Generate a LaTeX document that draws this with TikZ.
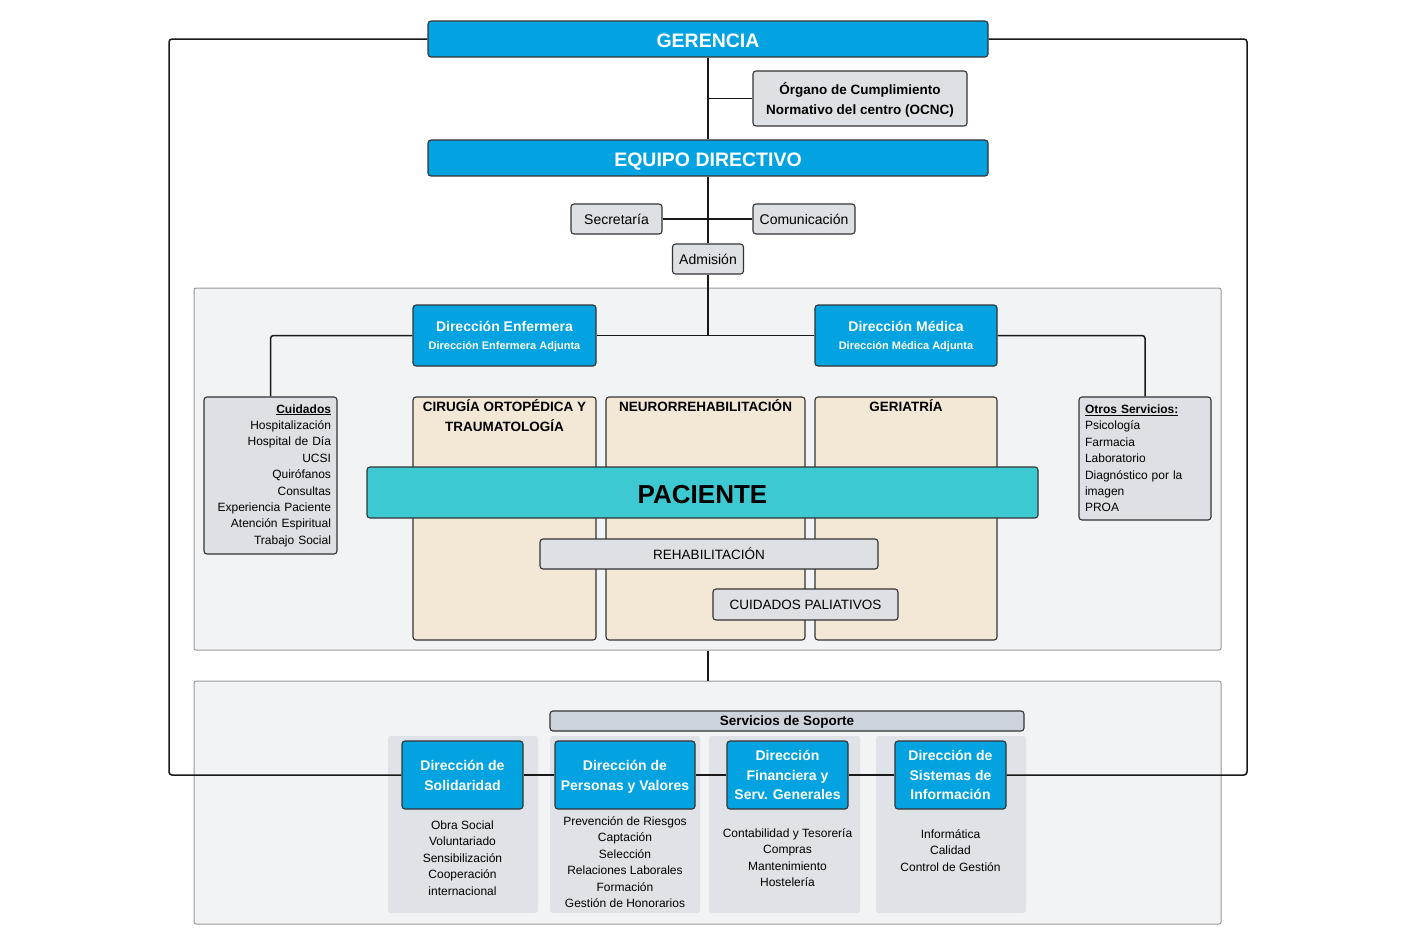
\documentclass[tikz,border=0pt]{standalone}
\usepackage{fontspec}
\setmainfont{Liberation Sans}
\usetikzlibrary{positioning}

\definecolor{dirazul}{RGB}{2,163,224}
\definecolor{grisclaro}{RGB}{221,224,229}
\definecolor{panelgris}{RGB}{242,243,245}
\definecolor{arena}{RGB}{243,231,214}
\definecolor{turquesa}{RGB}{60,201,209}
\definecolor{barragris}{RGB}{205,211,218}
\definecolor{colfondo}{RGB}{223,226,231}
\definecolor{borde}{RGB}{51,51,51}

\tikzset{
    caja/.style={draw=borde, line width=1.1pt, rounded corners=3pt, inner sep=0pt, align=center},
    dirbox/.style={caja, text depth=0pt, fill=dirazul, text=white, font=\bfseries\fontsize{14}{20}\selectfont},
    grisbox/.style={caja, text depth=0pt, fill=grisclaro, font=\fontsize{14}{19}\selectfont},
    listabox/.style={caja, fill=grisclaro, font=\fontsize{12}{16.4}\selectfont},
    areabox/.style={caja, fill=arena},
    titulo/.style={font=\bfseries\fontsize{13.5}{20}\selectfont, align=center, inner sep=0pt},
    panel/.style={draw=gray!80, line width=1pt, rounded corners=2pt, fill=panelgris},
    fondo/.style={fill=colfondo, rounded corners=3pt},
    lista/.style={font=\fontsize{12}{16.4}\selectfont, align=center, inner sep=0pt},
    linea/.style={line width=1.5pt, draw=black!90}
}

\begin{document}
\begin{tikzpicture}[x=1pt, y=-1pt]
    \useasboundingbox (0,0) rectangle (1417,945);

    % 1. Paneles de fondo
    \node[panel, minimum width=1027, minimum height=362] (medio) at (707.5,469) {};
    \node[panel, minimum width=1027, minimum height=243] (soporte) at (707.5,802.5) {};
    \foreach \cx/\cw in {463/150, 625/150, 784.5/151, 951/150} {
        \fill[fondo] (\cx-\cw/2,736) rectangle (\cx+\cw/2,913);
    }

    % 2. Gerencia y equipo directivo
    \node[dirbox, minimum width=560, minimum height=36, text height=16pt, font=\bfseries\fontsize{19.5}{22}\selectfont] (ger) at (708,39) {GERENCIA};
    \node[grisbox, minimum width=214, minimum height=55, font=\bfseries\fontsize{13.5}{19.5}\selectfont] (ocnc) at (860,98.5) {Órgano de Cumplimiento\\Normativo del centro (OCNC)};
    \node[dirbox, minimum width=560, minimum height=36, text height=16pt, font=\bfseries\fontsize{19.5}{22}\selectfont] (equipo) at (708,158) {EQUIPO DIRECTIVO};
    \node[grisbox, minimum width=91, minimum height=30] (sec) at (616.5,219) {Secretaría};
    \node[grisbox, minimum width=102, minimum height=30] (com) at (804,219) {Comunicación};
    \node[grisbox, minimum width=71, minimum height=30] (adm) at (708,259) {Admisión};

    % 3. Direcciones asistenciales
    \node[dirbox, minimum width=183, minimum height=61, font=\bfseries\fontsize{14}{18}\selectfont] (enf) at (504.5,335.5)
        {Dirección Enfermera\\{\fontsize{11}{18}\selectfont Dirección Enfermera Adjunta}};
    \node[dirbox, minimum width=182, minimum height=61, font=\bfseries\fontsize{14}{18}\selectfont] (med) at (906,335.5)
        {Dirección Médica\\{\fontsize{11}{18}\selectfont Dirección Médica Adjunta}};
    \node[listabox, minimum width=133, minimum height=157, text width=121, align=right] (cuid) at (270.5,475.5)
        {\underline{\textbf{Cuidados}}\\Hospitalización\\Hospital de Día\\UCSI\\Quirófanos\\Consultas\\Experiencia Paciente\\Atención Espiritual\\Trabajo Social};
    \node[listabox, minimum width=132, minimum height=123, text width=120, align=left] (otros) at (1145,458.5)
        {\underline{\textbf{Otros Servicios:}}\\Psicología\\Farmacia\\Laboratorio\\Diagnóstico por la\\imagen\\PROA};

    % 4. Areas y paciente
    \node[areabox, minimum width=183, minimum height=243] (cir) at (504.5,518.5) {};
    \node[areabox, minimum width=199, minimum height=243] (neu) at (705.5,518.5) {};
    \node[areabox, minimum width=182, minimum height=243] (geri) at (906,518.5) {};
    \node[titulo, anchor=north] (cirtit) at ([yshift=-3pt]cir.north) {CIRUGÍA ORTOPÉDICA Y\\TRAUMATOLOGÍA};
    \node[titulo, anchor=north] (neutit) at ([yshift=-3pt]neu.north) {NEURORREHABILITACIÓN};
    \node[titulo, anchor=north] (geritit) at ([yshift=-3pt]geri.north) {GERIATRÍA};
    \node[caja, fill=turquesa, minimum width=671, minimum height=51, text height=21.7pt, text depth=0pt, font=\bfseries\fontsize{26}{30}\selectfont] (pac) at (702.5,492.5) {PACIENTE};
    \node[grisbox, minimum width=338, minimum height=30, font=\fontsize{13.5}{16}\selectfont] (reh) at (709,554) {REHABILITACIÓN};
    \node[grisbox, minimum width=185, minimum height=31, font=\fontsize{13.5}{16}\selectfont] (pal) at (805.5,604.5) {CUIDADOS PALIATIVOS};

    % 5. Servicios de soporte
    \node[caja, fill=barragris, minimum width=474, minimum height=20, text depth=0pt, font=\bfseries\fontsize{13.5}{16}\selectfont] (sop) at (787,721) {Servicios de Soporte};
    \node[dirbox, minimum width=121, minimum height=68] (sol) at (462.5,775) {Dirección de\\Solidaridad};
    \node[dirbox, minimum width=140, minimum height=68] (per) at (625,775) {Dirección de\\Personas y Valores};
    \node[dirbox, minimum width=121, minimum height=68, font=\bfseries\fontsize{14}{19.5}\selectfont] (fin) at (787.5,775) {Dirección\\Financiera y\\Serv. Generales};
    \node[dirbox, minimum width=111, minimum height=68, font=\bfseries\fontsize{14}{19.5}\selectfont] (sis) at (950.5,775) {Dirección de\\Sistemas de\\Información};
    \node[lista, below=11pt of sol] (sollista) {Obra Social\\Voluntariado\\Sensibilización\\Cooperación\\internacional};
    \node[lista, below=7pt of per] (perlista) {Prevención de Riesgos\\Captación\\Selección\\Relaciones Laborales\\Formación\\Gestión de Honorarios};
    \node[lista, below=19pt of fin] (finlista) {Contabilidad y Tesorería\\Compras\\Mantenimiento\\Hostelería};
    \node[lista, below=20pt of sis] (sislista) {Informática\\Calidad\\Control de Gestión};

    % 6. Conexiones
    \coordinate (lazoizq) at (169,39);
    \coordinate (lazoder) at (1247,39);
    \draw[linea, rounded corners=3pt] (ger.west) -- (lazoizq) |- (sol.west);
    \draw[linea, rounded corners=3pt] (ger.east) -- (lazoder) |- (sis.east);
    \draw[linea] (sol) -- (per) -- (fin) -- (sis);
    \draw[linea] (ger) -- (equipo);
    \draw[linea] (ger.south |- ocnc.west) -- (ocnc.west);
    \draw[linea] (equipo) -- (adm);
    \draw[linea] (sec) -- (com);
    \draw[linea] (adm.south) |- (enf.east);
    \draw[linea] (enf) -- (med);
    \draw[linea, rounded corners=3pt] (enf.west) -| (cuid.north);
    \draw[linea, rounded corners=3pt] (med.east) -| (otros.north);
    \draw[linea] (medio.south -| adm) -- (soporte.north -| adm);
\end{tikzpicture}
\end{document}
